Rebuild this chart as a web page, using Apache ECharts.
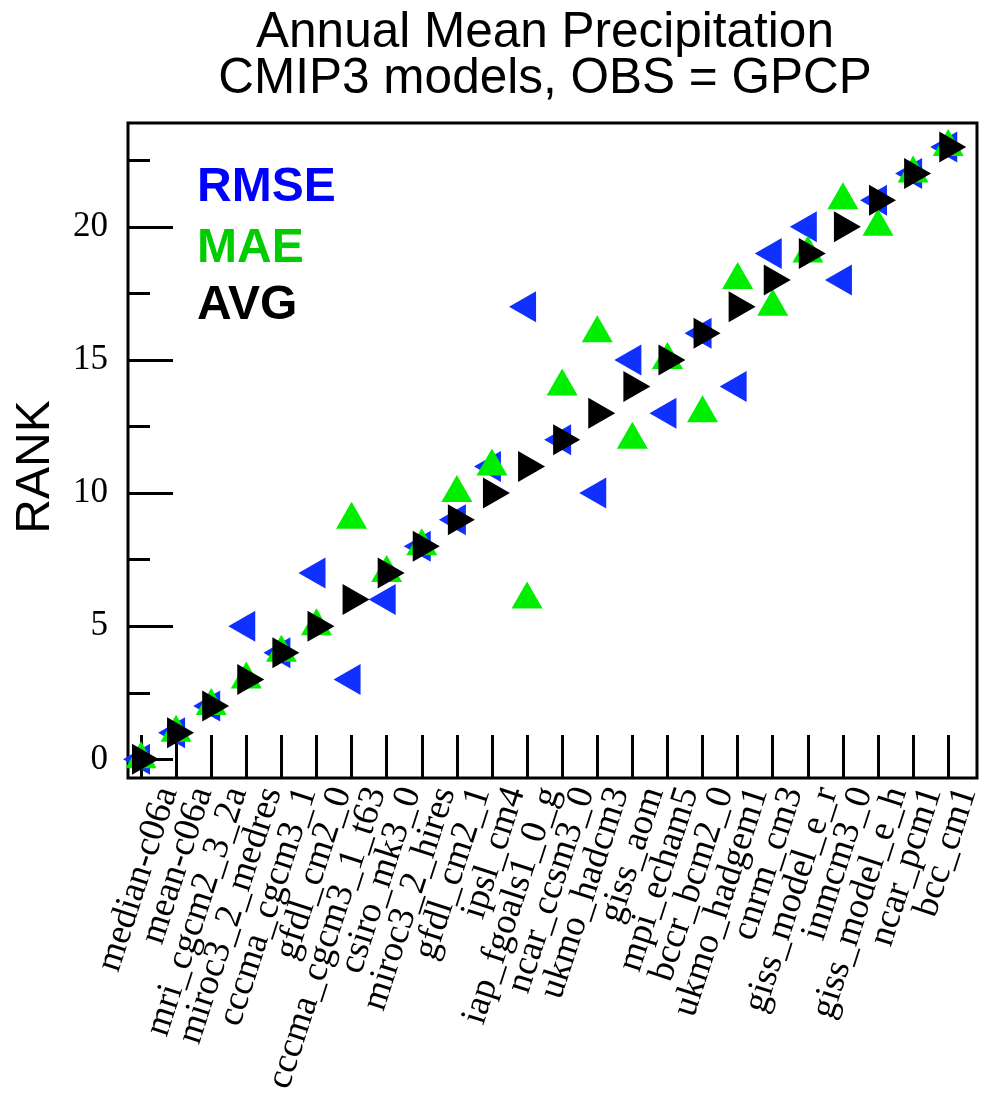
<!DOCTYPE html>
<html>
<head>
<meta charset="utf-8">
<script src="https://cdn.jsdelivr.net/npm/echarts@6/dist/echarts.min.js"></script>
<style>
  html, body { margin: 0; padding: 0; background: #fff; }
  #chart { width: 985px; height: 1096px; }
</style>
</head>
<body>
<div id="chart"></div>
<script>
// model names, in plot order
const models = [
  'median-c06a', 'mean-c06a', 'mri_cgcm2_3_2a', 'miroc3_2_medres', 'cccma_cgcm3_1',
  'gfdl_cm2_0', 'cccma_cgcm3_1_t63', 'csiro_mk3_0', 'miroc3_2_hires', 'gfdl_cm2_1',
  'ipsl_cm4', 'iap_fgoals1_0_g', 'ncar_ccsm3_0', 'ukmo_hadcm3', 'giss_aom',
  'mpi_echam5', 'bccr_bcm2_0', 'ukmo_hadgem1', 'cnrm_cm3', 'giss_model_e_r',
  'inmcm3_0', 'giss_model_e_h', 'ncar_pcm1', 'bcc_cm1'
]
const rmseRank = [0, 1, 2, 5, 4, 7, 3, 6, 8, 9, 11, 17, 12, 10, 15, 13, 16, 14, 19, 20, 18, 21, 22, 23]
const maeRank = [0, 1, 2, 3, 4, 5, 9, 7, 8, 10, 11, 6, 14, 16, 12, 15, 13, 18, 17, 19, 21, 20, 22, 23]
const avgRank = [0, 1, 2, 3, 4, 5, 6, 7, 8, 9, 10, 11, 12, 13, 14, 15, 16, 17, 18, 19, 20, 21, 22, 23]
const yTicks = [0, 5, 10, 15, 20]
const yMinorTicks = [2.5, 7.5, 12.5, 17.5, 22.5]
const xTicks = models.map((m, i) => i)

const toPoints = ranks => ranks.map((r, i) => [i, r])

const chart = echarts.init(document.getElementById('chart'))

const xMin = -0.37
const xMax = 23.82
// plot box in px
const plotLeft = 128
const plotWidth = 849
const step = plotWidth / (xMax - xMin)
// names sit a little right of their ticks, like in the reference
const labelShift = 27
const labelGridLeft = plotLeft + (0 - xMin) * step + labelShift - step / 2

const triSize = [31, 27]

chart.setOption({
  animation: false,
  title: {
    text: 'Annual Mean Precipitation\nCMIP3 models, OBS = GPCP',
    left: 545,
    top: 10,
    padding: 0,
    textAlign: 'center',
    textStyle: {
      fontFamily: 'Liberation Sans',
      fontSize: 49.5,
      fontWeight: 'normal',
      lineHeight: 46,
      color: '#000',
    },
  },
  grid: [
    {
      left: plotLeft,
      width: plotWidth,
      top: 123,
      bottom: 318,
      show: true,
      borderColor: '#000',
      borderWidth: 3,
      backgroundColor: 'transparent',
    },
    {
      // only carries the rotated model names
      left: labelGridLeft,
      width: step * models.length,
      top: 123,
      bottom: 318,
      show: false,
    },
  ],
  xAxis: [
    {
      type: 'value',
      gridIndex: 0,
      min: xMin,
      max: xMax,
      axisLine: { show: false, onZero: false },
      splitLine: { show: false },
      axisLabel: { show: false },
      axisTick: {
        show: true,
        inside: true,
        length: 43,
        customValues: xTicks,
        lineStyle: { color: '#000', width: 3 },
      },
    },
    {
      type: 'category',
      gridIndex: 1,
      data: models,
      position: 'bottom',
      axisLine: { show: false, onZero: false },
      splitLine: { show: false },
      axisTick: { show: false },
      axisLabel: {
        show: true,
        interval: 0,
        rotate: 72,
        margin: 30,
        fontFamily: 'Liberation Serif',
        fontSize: 37,
        color: '#000',
      },
    },
  ],
  yAxis: [
    {
      type: 'value',
      gridIndex: 0,
      min: -0.7,
      max: 23.9,
      axisLine: { show: false, onZero: false },
      splitLine: { show: false },
      axisTick: {
        show: true,
        inside: true,
        length: 45,
        customValues: yTicks,
        lineStyle: { color: '#000', width: 3 },
      },
      axisLabel: {
        show: true,
        customValues: yTicks,
        showMinLabel: true,
        showMaxLabel: true,
        margin: 20,
        fontFamily: 'Liberation Serif',
        fontSize: 35,
        color: '#000',
      },
    },
    {
      type: 'value',
      gridIndex: 0,
      position: 'left',
      min: -0.7,
      max: 23.9,
      axisLine: { show: false, onZero: false },
      splitLine: { show: false },
      axisLabel: { show: false },
      axisTick: {
        show: true,
        inside: true,
        length: 22,
        customValues: yMinorTicks,
        lineStyle: { color: '#000', width: 3 },
      },
    },
    {
      type: 'value',
      gridIndex: 1,
      show: false,
    },
  ],
  graphic: [
    {
      type: 'text',
      x: 36,
      y: 467,
      rotation: Math.PI / 2,
      style: {
        text: 'RANK',
        font: '48px "Liberation Sans"',
        fill: '#000',
        align: 'center',
        verticalAlign: 'middle',
      },
    },
    {
      type: 'text',
      left: 197,
      top: 164,
      style: { text: 'RMSE', font: 'bold 48px "Liberation Sans"', fill: '#0000ff' },
    },
    {
      type: 'text',
      left: 197,
      top: 225,
      style: { text: 'MAE', font: 'bold 48px "Liberation Sans"', fill: '#00cc00' },
    },
    {
      type: 'text',
      left: 197,
      top: 282,
      style: { text: 'AVG', font: 'bold 48px "Liberation Sans"', fill: '#000' },
    },
  ],
  series: [
    {
      name: 'RMSE',
      type: 'scatter',
      data: toPoints(rmseRank),
      symbol: 'triangle',
      symbolSize: triSize,
      symbolRotate: 90,
      symbolOffset: [-4.5, 0],
      itemStyle: { color: '#0f30ff', opacity: 1 },
    },
    {
      name: 'MAE',
      type: 'scatter',
      data: toPoints(maeRank),
      symbol: 'triangle',
      symbolSize: triSize,
      symbolOffset: [0, -4.5],
      itemStyle: { color: '#00ee00', opacity: 1 },
    },
    {
      name: 'AVG',
      type: 'scatter',
      data: toPoints(avgRank),
      symbol: 'triangle',
      symbolSize: triSize,
      symbolRotate: -90,
      symbolOffset: [4.5, 0],
      itemStyle: { color: '#000', opacity: 1 },
    },
  ],
})
</script>
</body>
</html>
